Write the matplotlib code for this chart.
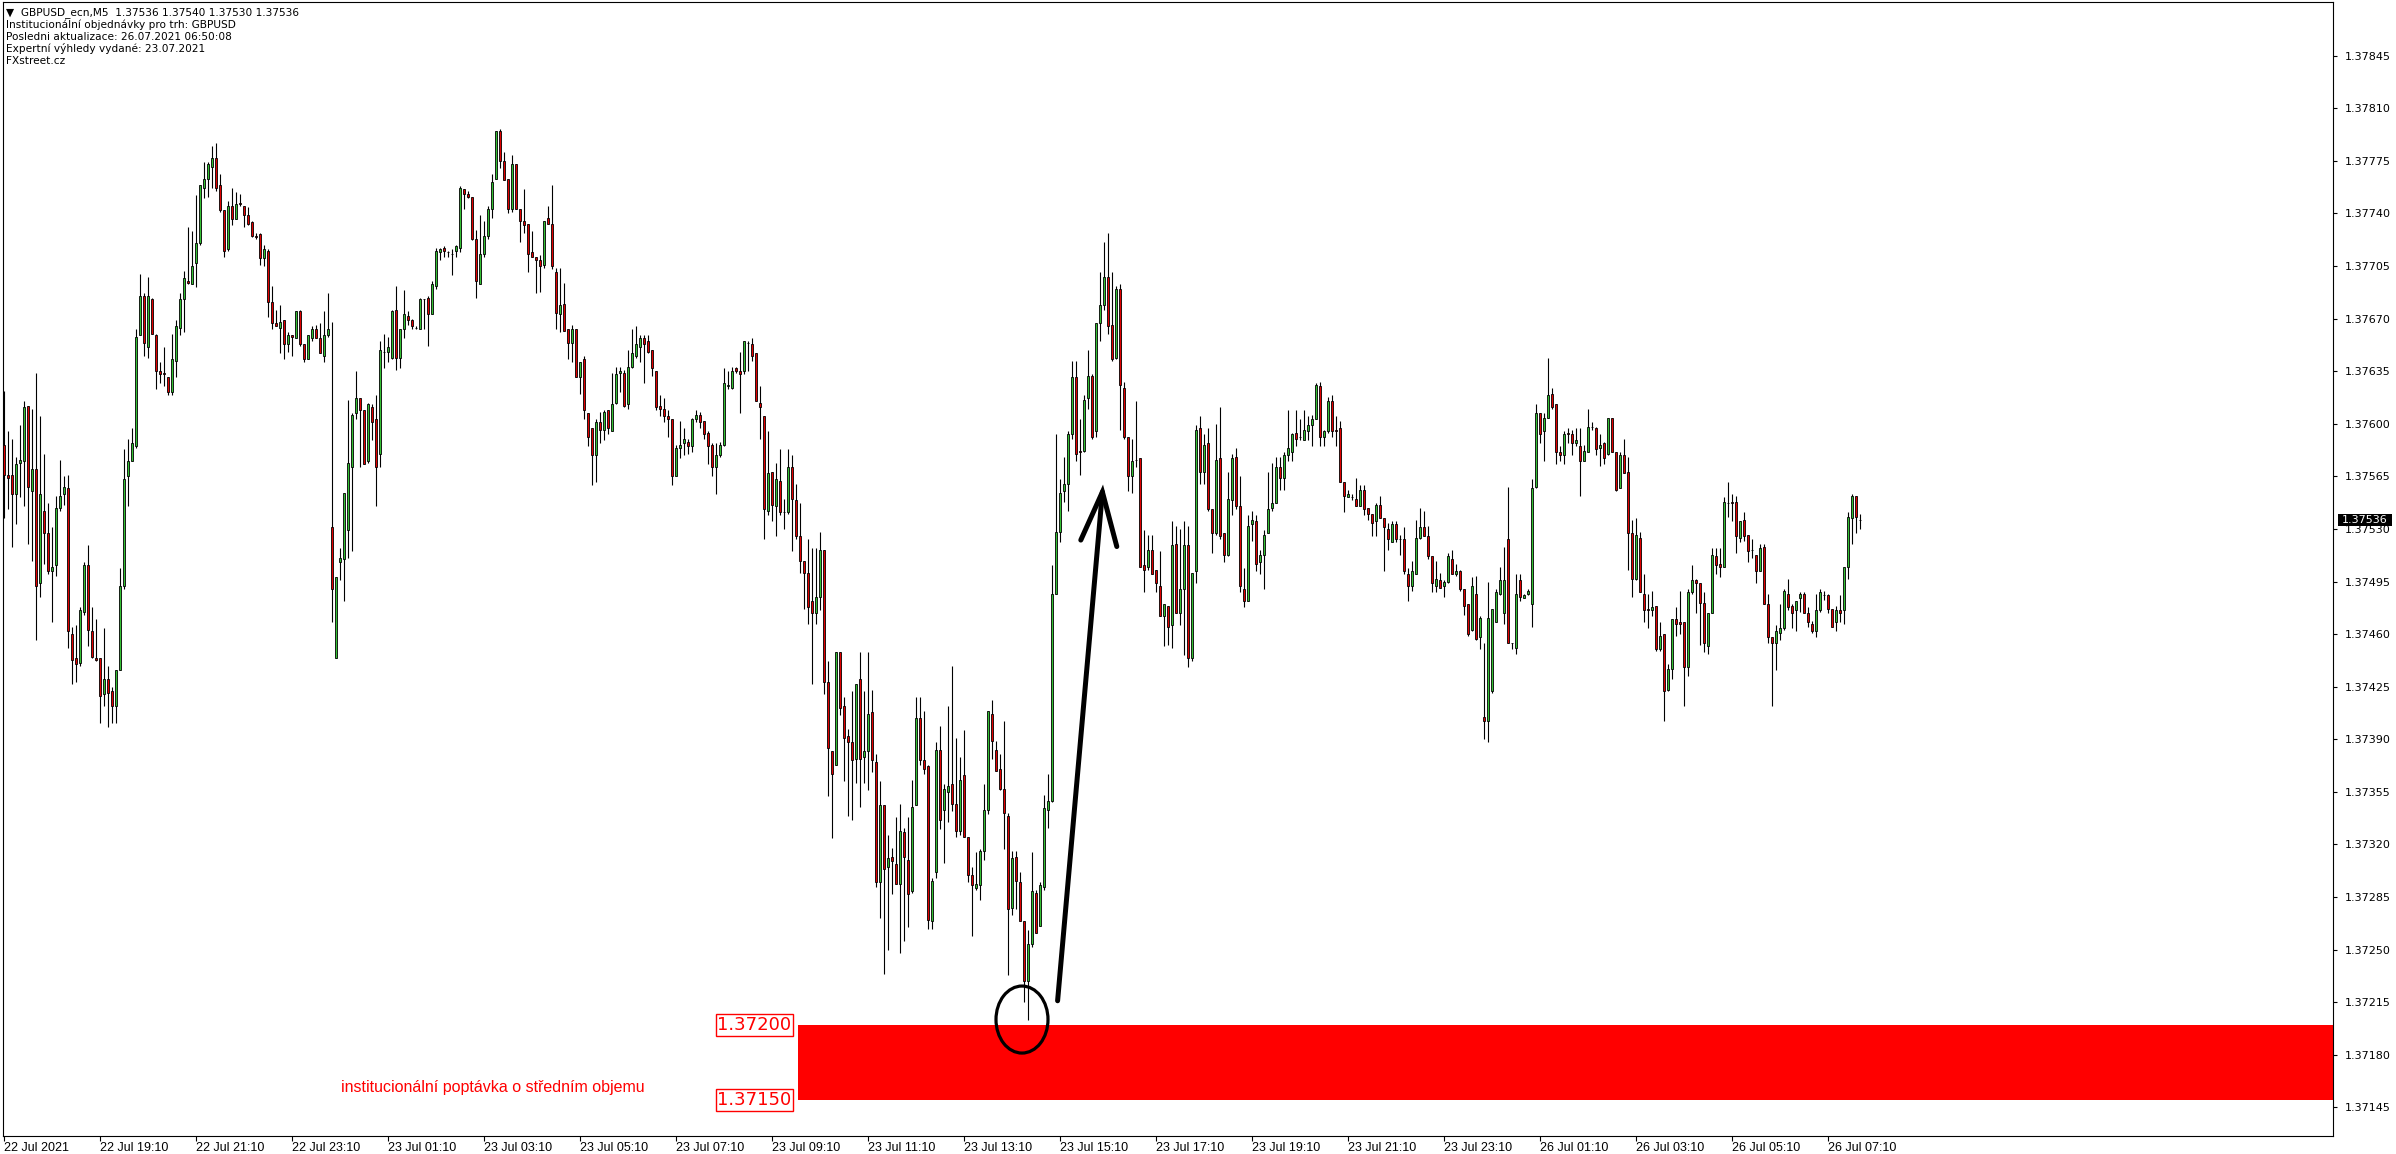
import matplotlib
matplotlib.use("Agg")
import matplotlib.pyplot as plt
from matplotlib.patches import Rectangle, Ellipse
from matplotlib.transforms import blended_transform_factory
import numpy as np

# GBPUSD M5 candles, prices as points above 1.37000
opens = [
    586, 566, 566, 553, 574, 575, 612, 555, 570, 494, 542, 527, 502, 506, 544, 553, 557, 460, 444, 441, 475, 506, 462, 444, 444,
    420, 430, 422, 412, 436, 492, 565, 575, 585, 659, 685, 651, 683, 659, 635, 634, 631, 621, 642, 664, 683, 695, 693, 707, 720,
    757, 763, 771, 777, 759, 742, 716, 745, 736, 747, 745, 739, 734, 725, 726, 710, 715, 681, 667, 664, 669, 653, 659, 657, 675,
    653, 643, 657, 663, 657, 645, 659, 531, 444, 508, 510, 529, 571, 607, 617, 609, 575, 611, 603, 580, 648, 648, 644, 676, 644,
    663, 672, 669, 664, 663, 683, 684, 673, 692, 714, 717, 714, 713, 715, 717, 756, 753, 751, 723, 693, 713, 725, 743, 763, 795,
    775, 763, 743, 773, 743, 735, 733, 714, 711, 709, 706, 737, 733, 701, 673, 680, 663, 654, 663, 631, 643, 607, 597, 579, 601,
    596, 609, 595, 614, 634, 634, 613, 638, 645, 651, 657, 655, 649, 635, 612, 610, 605, 603, 565, 584, 587, 588, 585, 603, 606,
    602, 594, 586, 571, 579, 586, 625, 624, 637, 635, 635, 654, 653, 647, 614, 605, 542, 568, 545, 562, 541, 541, 571, 549, 525,
    509, 501, 482, 474, 485, 516, 428, 382, 373, 448, 412, 392, 388, 377, 430, 378, 382, 408, 375, 295, 346, 305, 312, 307, 294,
    328, 310, 289, 346, 404, 376, 372, 269, 302, 383, 343, 355, 360, 347, 329, 366, 325, 300, 291, 293, 316, 343, 407, 383, 370,
    357, 339, 278, 312, 295, 269, 229, 254, 288, 266, 292, 343, 349, 487, 528, 555, 560, 593, 631, 582, 582, 617, 632, 595, 667,
    679, 698, 666, 644, 690, 624, 591, 565, 576, 577, 506, 505, 516, 503, 492, 472, 479, 466, 520, 474, 490, 519, 444, 502, 597,
    568, 587, 543, 527, 577, 527, 513, 549, 578, 545, 490, 482, 533, 535, 508, 513, 527, 544, 547, 571, 564, 579, 581, 594, 591,
    589, 595, 599, 603, 625, 591, 595, 615, 596, 597, 561, 551, 551, 550, 545, 556, 544, 540, 535, 546, 537, 530, 521, 533, 523,
    523, 500, 492, 500, 524, 531, 525, 512, 492, 496, 492, 495, 510, 500, 502, 490, 480, 463, 487, 458, 405, 402, 422, 468, 487,
    474, 523, 454, 451, 496, 484, 487, 480, 558, 607, 595, 604, 620, 613, 581, 579, 594, 593, 587, 585, 575, 581, 598, 597, 584,
    587, 580, 604, 581, 557, 579, 568, 527, 497, 524, 487, 477, 476, 479, 450, 460, 423, 437, 470, 468, 468, 438, 488, 496, 494,
    481, 452, 474, 512, 507, 505, 547, 548, 548, 524, 536, 526, 516, 513, 502, 518, 480, 458, 454, 461, 464, 487, 479, 476, 484,
    487, 474, 467, 462, 476, 486, 486, 477, 468, 476, 476, 505, 537, 552, 536,
]
highs = [
    622, 595, 590, 578, 599, 615, 612, 610, 634, 605, 580, 547, 531, 552, 576, 565, 566, 465, 466, 478, 508, 519, 478, 470, 444,
    464, 439, 425, 436, 504, 583, 590, 597, 663, 700, 687, 698, 684, 660, 641, 651, 631, 660, 669, 687, 702, 731, 728, 752, 759,
    774, 774, 785, 787, 766, 742, 748, 757, 754, 753, 745, 744, 735, 727, 727, 719, 716, 692, 676, 679, 669, 661, 659, 675, 676,
    653, 659, 665, 666, 667, 675, 687, 668, 498, 517, 554, 616, 607, 635, 617, 609, 614, 613, 619, 655, 660, 658, 676, 692, 663,
    689, 675, 670, 665, 684, 683, 685, 695, 717, 717, 718, 715, 716, 719, 758, 756, 755, 751, 729, 739, 735, 745, 766, 795, 796,
    781, 763, 779, 773, 743, 756, 733, 728, 711, 712, 735, 745, 759, 704, 704, 694, 663, 666, 663, 641, 645, 607, 597, 603, 608,
    609, 609, 634, 638, 638, 636, 649, 663, 665, 659, 659, 659, 649, 635, 619, 617, 609, 603, 586, 602, 597, 590, 604, 609, 608,
    602, 595, 587, 587, 588, 637, 635, 638, 638, 648, 655, 655, 657, 647, 625, 605, 595, 568, 574, 583, 550, 583, 579, 560, 547,
    509, 523, 517, 517, 528, 516, 442, 382, 448, 448, 418, 397, 422, 427, 448, 422, 448, 423, 380, 362, 346, 326, 318, 338, 347,
    331, 338, 363, 418, 418, 409, 373, 298, 388, 399, 360, 412, 439, 391, 378, 396, 325, 305, 315, 317, 360, 409, 416, 389, 380,
    402, 341, 316, 316, 302, 269, 263, 315, 290, 295, 353, 367, 506, 593, 563, 578, 595, 642, 642, 603, 619, 649, 633, 667, 701,
    721, 727, 701, 692, 693, 628, 591, 590, 615, 577, 529, 526, 526, 503, 515, 480, 479, 535, 532, 530, 535, 532, 501, 599, 605,
    593, 597, 543, 600, 611, 527, 568, 580, 584, 565, 504, 539, 542, 539, 516, 529, 568, 574, 578, 578, 581, 609, 594, 609, 603,
    609, 605, 606, 627, 628, 596, 618, 619, 605, 602, 561, 556, 553, 564, 559, 559, 544, 540, 547, 552, 537, 534, 535, 535, 526,
    531, 504, 509, 536, 544, 542, 532, 512, 509, 501, 496, 514, 516, 507, 503, 490, 480, 498, 499, 472, 454, 495, 477, 490, 505,
    518, 558, 454, 500, 500, 487, 490, 563, 613, 607, 607, 644, 624, 613, 585, 595, 597, 596, 597, 597, 586, 610, 601, 598, 593,
    588, 604, 604, 581, 581, 590, 578, 536, 537, 528, 500, 487, 489, 479, 468, 460, 440, 470, 478, 489, 468, 490, 506, 497, 494,
    488, 474, 517, 517, 517, 551, 561, 553, 552, 535, 541, 526, 523, 513, 520, 520, 487, 458, 466, 480, 490, 497, 480, 482, 488,
    488, 478, 469, 487, 490, 489, 487, 477, 479, 486, 505, 541, 553, 552, 540,
]
lows = [
    537, 543, 518, 533, 551, 545, 520, 509, 456, 485, 507, 500, 468, 499, 542, 546, 451, 427, 428, 439, 473, 452, 444, 442, 401,
    412, 398, 401, 401, 436, 490, 545, 575, 584, 659, 645, 644, 660, 623, 627, 625, 619, 619, 631, 659, 661, 693, 693, 691, 719,
    750, 751, 757, 755, 741, 711, 715, 732, 736, 745, 731, 732, 724, 723, 706, 705, 671, 663, 665, 647, 643, 648, 645, 657, 652,
    641, 643, 655, 657, 647, 641, 658, 468, 444, 496, 482, 511, 515, 603, 571, 573, 574, 589, 545, 571, 637, 641, 643, 636, 637,
    657, 666, 663, 663, 663, 663, 652, 673, 690, 709, 711, 711, 699, 711, 714, 743, 750, 722, 684, 693, 711, 723, 737, 763, 770,
    762, 740, 741, 743, 721, 727, 701, 711, 687, 688, 704, 733, 703, 663, 661, 662, 643, 641, 631, 620, 603, 585, 559, 561, 587,
    589, 593, 595, 613, 621, 611, 610, 637, 644, 641, 627, 647, 632, 609, 605, 601, 591, 559, 565, 577, 579, 580, 581, 601, 597,
    590, 573, 565, 553, 578, 585, 623, 623, 634, 607, 633, 635, 642, 615, 590, 523, 539, 535, 525, 539, 530, 540, 515, 523, 501,
    477, 467, 427, 467, 476, 420, 352, 324, 373, 406, 362, 339, 336, 361, 345, 361, 356, 368, 292, 271, 234, 250, 287, 294, 248,
    256, 265, 288, 346, 373, 367, 264, 264, 298, 330, 308, 335, 342, 325, 326, 325, 295, 259, 290, 283, 310, 340, 377, 369, 356,
    317, 233, 273, 277, 269, 215, 203, 252, 261, 266, 290, 331, 348, 487, 521, 548, 542, 590, 575, 566, 581, 610, 590, 591, 655,
    676, 660, 642, 643, 596, 590, 555, 554, 571, 505, 488, 503, 500, 488, 472, 452, 453, 451, 474, 466, 446, 438, 442, 494, 560,
    560, 542, 514, 526, 523, 508, 512, 539, 543, 488, 478, 482, 522, 502, 500, 490, 527, 542, 547, 556, 556, 575, 575, 585, 589,
    589, 589, 585, 603, 585, 585, 594, 591, 585, 561, 541, 551, 549, 545, 545, 539, 536, 525, 525, 537, 502, 516, 521, 521, 513,
    500, 482, 489, 500, 523, 525, 510, 488, 488, 491, 485, 494, 500, 499, 489, 473, 459, 462, 456, 450, 390, 388, 421, 468, 486,
    467, 454, 450, 447, 482, 484, 486, 465, 557, 587, 575, 604, 610, 573, 575, 573, 587, 579, 585, 552, 575, 581, 596, 579, 572,
    573, 579, 581, 555, 557, 567, 503, 485, 496, 488, 468, 464, 472, 449, 449, 402, 422, 430, 459, 460, 412, 432, 487, 474, 453,
    448, 447, 474, 500, 498, 505, 538, 535, 514, 521, 522, 508, 511, 494, 502, 480, 454, 412, 436, 456, 463, 476, 464, 462, 475,
    474, 465, 461, 458, 475, 483, 474, 465, 462, 468, 467, 497, 520, 527, 530,
]
closes = [
    566, 564, 553, 573, 576, 611, 558, 570, 492, 553, 527, 502, 505, 544, 552, 558, 462, 443, 440, 476, 506, 463, 445, 443, 419,
    430, 421, 412, 436, 492, 563, 575, 587, 658, 685, 654, 685, 660, 635, 633, 633, 621, 643, 665, 683, 697, 694, 705, 720, 759,
    763, 773, 777, 757, 742, 715, 745, 736, 746, 746, 739, 733, 725, 724, 710, 716, 681, 667, 665, 668, 653, 659, 658, 675, 653,
    643, 659, 663, 657, 647, 659, 663, 490, 498, 511, 554, 574, 606, 617, 609, 573, 613, 601, 571, 649, 648, 651, 675, 644, 663,
    673, 669, 665, 664, 683, 683, 673, 693, 715, 716, 715, 714, 713, 718, 757, 753, 751, 723, 695, 713, 725, 743, 761, 795, 775,
    762, 743, 773, 743, 735, 732, 713, 711, 709, 705, 735, 733, 705, 674, 679, 662, 654, 663, 631, 641, 609, 591, 579, 601, 596,
    608, 597, 613, 633, 635, 612, 638, 647, 653, 657, 653, 648, 637, 611, 610, 605, 603, 565, 584, 586, 590, 585, 603, 606, 601,
    593, 585, 571, 579, 586, 627, 626, 635, 635, 633, 655, 654, 645, 615, 611, 543, 567, 546, 563, 541, 541, 571, 550, 525, 509,
    501, 478, 474, 485, 516, 428, 384, 367, 448, 411, 391, 388, 376, 427, 377, 382, 407, 376, 295, 346, 304, 311, 309, 294, 329,
    312, 287, 345, 404, 376, 370, 270, 296, 383, 336, 357, 359, 347, 329, 363, 325, 300, 293, 294, 316, 343, 409, 389, 369, 357,
    341, 277, 311, 296, 269, 229, 254, 289, 261, 293, 344, 349, 487, 528, 554, 560, 593, 631, 580, 581, 616, 632, 591, 667, 679,
    698, 665, 643, 690, 626, 591, 565, 575, 576, 505, 503, 516, 500, 494, 472, 480, 465, 519, 474, 490, 519, 444, 501, 596, 568,
    586, 543, 527, 576, 525, 513, 550, 577, 545, 492, 482, 532, 536, 507, 513, 526, 543, 547, 571, 564, 579, 584, 593, 590, 591,
    596, 599, 603, 626, 591, 595, 615, 595, 595, 561, 552, 553, 551, 545, 556, 543, 540, 534, 546, 537, 531, 523, 533, 523, 523,
    502, 492, 502, 524, 531, 525, 512, 494, 497, 491, 495, 512, 500, 502, 490, 479, 460, 492, 457, 471, 402, 471, 477, 488, 496,
    496, 454, 454, 487, 485, 486, 489, 557, 607, 593, 604, 619, 611, 581, 579, 593, 593, 587, 589, 575, 582, 598, 598, 583, 586,
    577, 604, 581, 556, 579, 567, 527, 497, 526, 488, 476, 476, 478, 450, 459, 422, 437, 470, 467, 467, 438, 488, 496, 494, 481,
    454, 474, 513, 506, 505, 548, 547, 547, 525, 535, 525, 515, 516, 502, 517, 480, 458, 454, 462, 464, 489, 478, 474, 482, 487,
    474, 468, 462, 476, 488, 486, 477, 465, 476, 474, 505, 538, 552, 538, 536,
]

time_labels = ["22 Jul 2021", "22 Jul 19:10", "22 Jul 21:10", "22 Jul 23:10", "23 Jul 01:10",
               "23 Jul 03:10", "23 Jul 05:10", "23 Jul 07:10", "23 Jul 09:10", "23 Jul 11:10",
               "23 Jul 13:10", "23 Jul 15:10", "23 Jul 17:10", "23 Jul 19:10", "23 Jul 21:10",
               "23 Jul 23:10", "26 Jul 01:10", "26 Jul 03:10", "26 Jul 05:10", "26 Jul 07:10"]
bars_per_label = 24

header_lines = ["\u25bc  GBPUSD_ecn,M5  1.37536 1.37540 1.37530 1.37536",
                "Institucionální objednávky pro trh: GBPUSD",
                "Posledni aktualizace: 26.07.2021 06:50:08",
                "Expertní výhledy vydané: 23.07.2021",
                "FXstreet.cz"]

zone_top = 1.37200
zone_bottom = 1.37150
zone_text = "institucionální poptávka o středním objemu"
last_price = 1.37536

base = 1.37
o = base + np.array(opens) / 1e5
h = base + np.array(highs) / 1e5
l = base + np.array(lows) / 1e5
c = base + np.array(closes) / 1e5
x = np.arange(len(o))

W, H = 2396, 1154
fig = plt.figure(figsize=(W / 100, H / 100), dpi=100)
ax = fig.add_axes([3 / W, 18 / H, 2330 / W, 1134 / H])

# candles
up = c > o
body_col = np.where(up, "#33c033", "#e00000")
ax.vlines(x, l, h, color="black", lw=0.8, zorder=2)
body_h = np.maximum(np.abs(c - o), 1e-7)
ax.bar(x, body_h, bottom=np.minimum(o, c), width=0.7, color=body_col,
       edgecolor="black", linewidth=0.6, zorder=3)

ax.set_xlim(-0.25, 582.25)
ax.set_ylim(1.37126, 1.378807)

# demand zone
ax.add_patch(Rectangle((198.4, zone_bottom), 500, zone_top - zone_bottom,
                       facecolor="#ff0000", edgecolor="none", zorder=1))
for val in (zone_top, zone_bottom):
    ax.text(196.9, val, f"{val:.5f}", color="#ff0000", fontsize=13,
            ha="right", va="center", family=["DejaVu Sans"],
            bbox=dict(boxstyle="square,pad=0.1", fc="white", ec="#ff0000", lw=1.0), zorder=6)
ax.text(84.3, 1.37158, zone_text, color="#ff0000", fontsize=11.5,
        family=["Liberation Sans", "DejaVu Sans"], ha="left", va="center", zorder=6)

# ellipse around the low and the arrow
ax.add_patch(Ellipse((254.5, 1.372035), 13.0, 0.000446, fill=False,
                     edgecolor="black", lw=2.3, zorder=5))
ax.plot([263.4, 274.6], [1.37216, 1.375546], color="black", lw=3.6,
        solid_capstyle="round", zorder=5)
ax.plot([269.2, 274.6, 278.2], [1.375226, 1.375546, 1.375183], color="black", lw=3.6,
        solid_capstyle="round", solid_joinstyle="miter", zorder=5)

# axes styling
for sp in ax.spines.values():
    sp.set_color("black")
    sp.set_linewidth(0.8)
ax.yaxis.tick_right()
yt = np.round(np.arange(1.37145, 1.378451, 0.00035), 5)
ax.set_yticks(yt)
ax.set_yticklabels([f"{v:.5f}" for v in yt])
ax.tick_params(axis="y", direction="out", length=3.2, width=0.8, pad=5,
               labelsize=8, colors="black")
xt = np.arange(len(time_labels)) * bars_per_label
ax.set_xticks(xt)
ax.set_xticklabels(time_labels, ha="left", family=["Liberation Sans", "DejaVu Sans"])
ax.tick_params(axis="x", direction="out", length=3.5, width=0.8, pad=0.5,
               labelsize=9, colors="black")

# current price marker
tr = blended_transform_factory(ax.transAxes, ax.transData)
ax.add_patch(Rectangle((1.0022, last_price - 0.000042), 54 / 2330, 0.000084,
                       transform=tr, facecolor="black", edgecolor="none",
                       clip_on=False, zorder=7))
ax.text(1.0038, last_price, f"{last_price:.5f}", transform=tr, color="white",
        fontsize=8, ha="left", va="center", clip_on=False, zorder=8)

# header comment text
ys = [12.5, 24.5, 36.5, 48.5, 60.5]
for txt, yy in zip(header_lines, ys):
    fig.text(6 / W, 1 - yy / H, txt, fontsize=7.6, color="black", va="center", ha="left",
             family=["DejaVu Sans"])

fig.savefig("out.png", dpi=100, facecolor="white")
